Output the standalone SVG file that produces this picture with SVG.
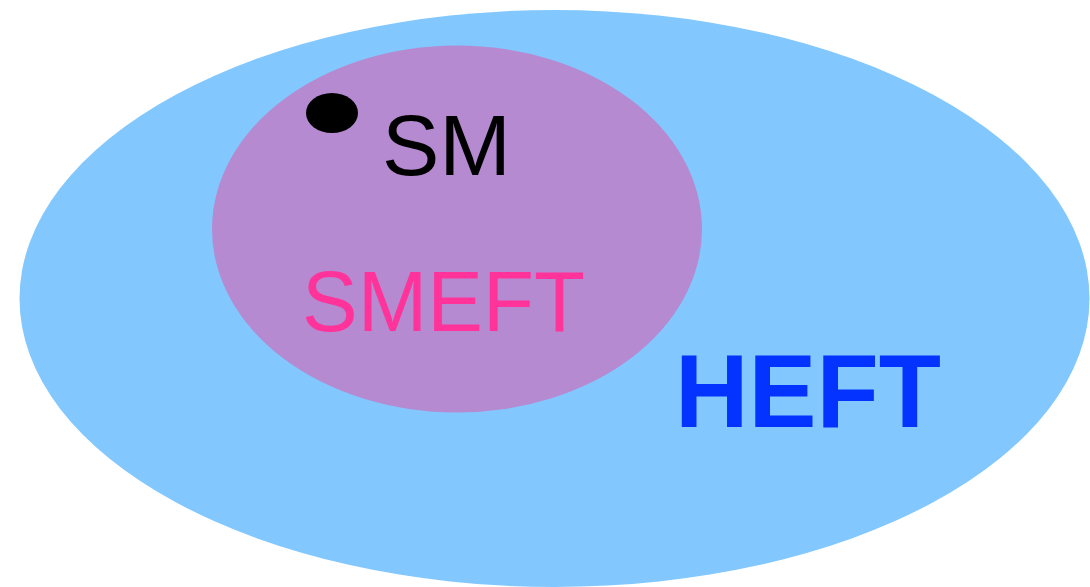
<svg xmlns="http://www.w3.org/2000/svg" width="1090" height="587" viewBox="0 0 1090 587">
<style>
text{font-family:"Liberation Sans",Arial,Helvetica,sans-serif}
</style>
<rect width="1090" height="587" fill="#ffffff"/>
<g id="heft">
<ellipse cx="554.5" cy="298.5" rx="535" ry="288.5" fill="#82C8FE"/>
<text x="675" y="427" font-size="104" font-weight="bold" fill="#0433FF" textLength="266" lengthAdjust="spacingAndGlyphs">HEFT</text>
</g>
<g id="smeft">
<ellipse cx="457" cy="229" rx="245" ry="183.5" fill="#B58AD1"/>
<text x="302" y="331" font-size="86" fill="#FF3399" textLength="283" lengthAdjust="spacingAndGlyphs">SMEFT</text>
</g>
<g id="sm">
<ellipse cx="332" cy="113" rx="26" ry="20" fill="#000000"/>
<text x="382" y="175" font-size="86" fill="#000000">SM</text>
</g>
<g id="connectors"/>
</svg>
